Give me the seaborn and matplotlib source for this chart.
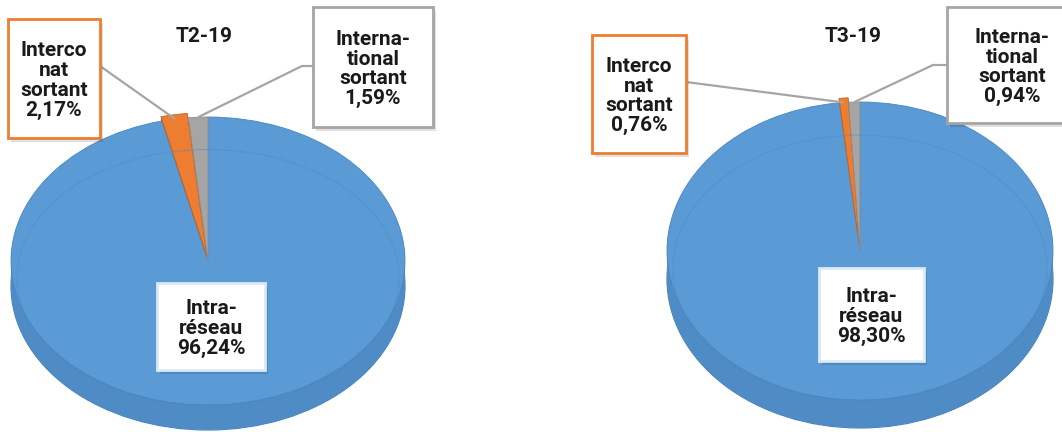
import numpy as np
import matplotlib
matplotlib.use("Agg")
from matplotlib import pyplot as plt
from matplotlib.patches import Rectangle, Ellipse
import seaborn as sns

# données
quarters = ["T2-19", "T3-19"]
categories = ["Intra-réseau", "Interconnexion sortant", "International sortant"]
name_lines = ["Intra-\nréseau", "Interco\nnat\nsortant", "Interna-\ntional\nsortant"]
t2_values = [96.24, 2.17, 1.59]
t3_values = [98.30, 0.76, 0.94]

W, H = 1062, 432
colors = ["#5B9BD5", "#ED7D31", "#A5A5A5"]
side_colors = ["#4F8CC6", "#7A3A10", "#7E7E7E"]
box_edges = ["#DCE9F5", "#ED7D31", "#A5A5A5"]

# mise en page (pixels, origine en haut à gauche)
pies = [
    dict(cx=208, cy=261, a=197, b=144, depth=25, title=(204, 37),
         boxes=[(157, 283, 108, 87), (8, 19, 92, 119), (313, 7, 120, 120)],
         leaders=[None, [(100, 66)], [(313, 66), (302, 66)]]),
    dict(cx=860, cy=251, a=193, b=149, depth=28, title=(853, 37),
         boxes=[(819, 268, 105, 93), (592, 35, 94, 118), (947, 7, 130, 116)],
         leaders=[None, [(686, 82)], [(947, 65), (933, 65)]]),
]


def fmt(v):
    return f"{v:.2f}".replace(".", ",") + "%"


def draw_pie(fig, overlay, values, layout, title):
    cx, cy, a, b, depth = layout["cx"], layout["cy"], layout["a"], layout["b"], layout["depth"]
    d = depth / b
    ax = fig.add_axes([(cx - a) / W, (H - (cy + b + depth)) / H,
                       2 * a / W, (2 * b + depth) / H])
    explode = [0, 0.03, 0]
    # épaisseur (faces latérales)
    for k in np.linspace(d, 0.01, 14):
        wedges, _ = ax.pie(values, colors=side_colors, startangle=90, counterclock=False,
                           center=(0, -k), explode=explode,
                           wedgeprops=dict(linewidth=0))
        for w in wedges:
            w.set_clip_on(False)
    # face supérieure
    wedges, _ = ax.pie(values, colors=colors, startangle=90, counterclock=False,
                       explode=explode, wedgeprops=dict(linewidth=0.6, edgecolor="#4A86C0"))
    for w in wedges:
        w.set_clip_on(False)
    wedges[1].set_edgecolor("#C8611F")
    wedges[2].set_edgecolor("#8E8E8E")
    ax.add_patch(Ellipse((0, -d), 2, 2, facecolor="none", edgecolor="#3F78B0",
                         lw=0.8, clip_on=False, zorder=0.5))
    ax.add_patch(Ellipse((0, -0.115), 2 * (a - 6) / a, 2 * (b - 16) / b, facecolor="none",
                         edgecolor="#4A88C6", lw=0.8, alpha=0.45, clip_on=False))
    ax.set_xlim(-1, 1)
    ax.set_ylim(-1 - d, 1)
    ax.set_aspect("auto")
    ax.axis("off")

    # titre
    overlay.text(layout["title"][0], layout["title"][1], title, ha="center", va="center",
                 fontsize=15, fontweight="bold", color="#1A1A1A")

    total = sum(values)
    starts = np.cumsum([0] + values[:-1])
    for i, v in enumerate(values):
        x0, y0, bw, bh = layout["boxes"][i]
        # lignes de rappel
        if layout["leaders"][i] is not None:
            theta = np.deg2rad(90 - 360 * (starts[i] + v / 2) / total)
            px = cx + a * np.cos(theta)
            py = cy - b * np.sin(theta)
            pts = layout["leaders"][i] + [(px, py)]
            overlay.plot([p[0] for p in pts], [p[1] for p in pts], color="#A5A5A5",
                         lw=1.6, zorder=2, solid_capstyle="butt")
        overlay.add_patch(Rectangle((x0 + 3, y0 + 4), bw, bh, facecolor="#000000",
                                    alpha=0.12, lw=0, zorder=3))
        overlay.add_patch(Rectangle((x0, y0), bw, bh, facecolor="white",
                                    edgecolor=box_edges[i], lw=2, zorder=4))
        overlay.text(x0 + bw / 2, y0 + bh / 2 + 2, name_lines[i] + "\n" + fmt(v),
                     ha="center", va="center", fontsize=15, fontweight="bold",
                     color="#1A1A1A", linespacing=1.05, zorder=5)


def main():
    sns.set_theme(style="white")
    plt.rcParams["font.family"] = ["Roboto", "DejaVu Sans"]

    fig = plt.figure(figsize=(W / 100, H / 100), dpi=100)
    fig.patch.set_facecolor("white")
    overlay = fig.add_axes([0, 0, 1, 1], zorder=5)
    overlay.set_xlim(0, W)
    overlay.set_ylim(H, 0)
    overlay.axis("off")
    overlay.patch.set_alpha(0)

    for values, layout, title in zip([t2_values, t3_values], pies, quarters):
        draw_pie(fig, overlay, values, layout, title)

    fig.savefig("out.png", dpi=100)


if __name__ == "__main__":
    main()
